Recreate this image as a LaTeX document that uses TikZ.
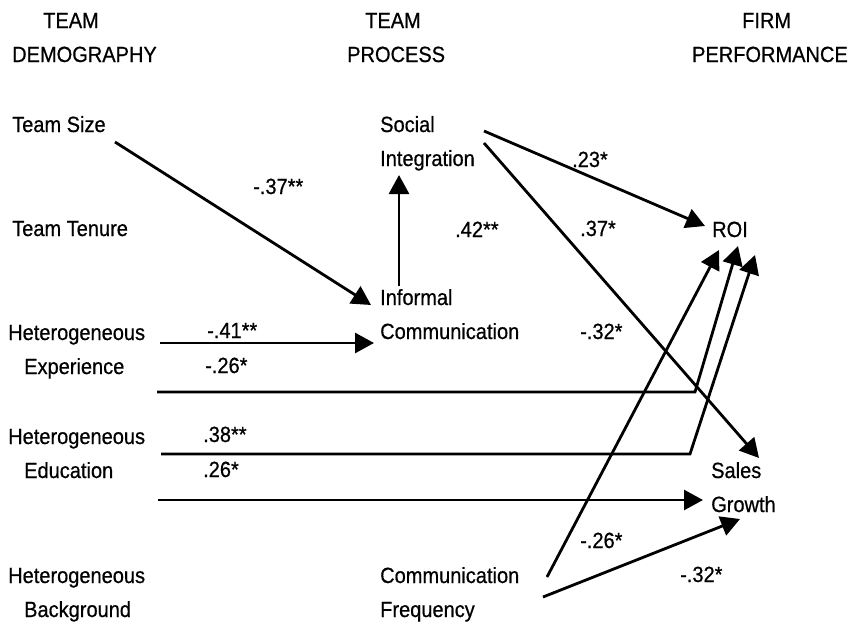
\documentclass[tikz,border=0pt]{standalone}
\usepackage{fontspec}
\setmainfont{Liberation Sans}[FakeStretch=0.91,FakeBold=0.6]
\usetikzlibrary{arrows.meta}
\begin{document}
\begin{tikzpicture}[x=1pt,y=-1pt,
  txt/.style={anchor=base west,inner sep=0pt,font=\fontsize{22}{26}\selectfont},
  txte/.style={anchor=base east,inner sep=0pt,font=\fontsize{22}{26}\selectfont},
  link/.style={line width=2.8pt,-{Triangle[length=19pt,width=20pt]}},
  plain/.style={line width=2.8pt}]
\path[use as bounding box,fill=white] (0,0) rectangle (854,624);
% headers
\node[txt] (h1a) at (43,28) {TEAM};
\node[txt] (h1b) at (12,62) {DEMOGRAPHY};
\node[txt] (h2a) at (365,28) {TEAM};
\node[txt] (h2b) at (347,62) {PROCESS};
\node[txt] (h3a) at (742,28) {FIRM};
\node[txte] (h3b) at (848,62) {PERFORMANCE};
% left column
\node[txt] (size) at (12,132) {Team Size};
\node[txt] (tenure) at (12,236) {Team Tenure};
\node[txt] (hexp) at (8,340) {Heterogeneous};
\node[txt] (exp) at (24,374) {Experience};
\node[txt] (hedu) at (8,444) {Heterogeneous};
\node[txt] (edu) at (24,478) {Education};
\node[txt] (hbg) at (8,583) {Heterogeneous};
\node[txt] (bg) at (24,617) {Background};
% middle column
\node[txt] (social) at (380,132) {Social};
\node[txt] (integ) at (380,166) {Integration};
\node[txt] (inf) at (380,305) {Informal};
\node[txt] (comm) at (380,339) {Communication};
\node[txt] (cf) at (380,583) {Communication};
\node[txt] (freq) at (380,617) {Frequency};
% right column
\node[txt] (roi) at (712,237) {ROI};
\node[txt] (sales) at (711,478) {Sales};
\node[txt] (growth) at (711,512) {Growth};
% coefficient labels
\node[txt] (l37) at (253,194) {-.37**};
\node[txt] (l42) at (455,237) {.42**};
\node[txt] (l23) at (572,167) {.23*};
\node[txt] (l37b) at (580,236) {.37*};
\node[txt] (l32) at (580,339) {-.32*};
\node[txt] (l41) at (207,338) {-.41**};
\node[txt] (l26) at (205,373) {-.26*};
\node[txt] (l38) at (203,442) {.38**};
\node[txt] (l26b) at (203,477) {.26*};
\node[txt] (l26c) at (580,548) {-.26*};
\node[txt] (l32b) at (680,582) {-.32*};
% connector end points
\coordinate (sizeS) at (115,142);
\coordinate (infT) at (371,305);
\coordinate (infS) at (399,286);
\coordinate (socT) at (399,175);
\coordinate (socS1) at (484,131);
\coordinate (roiT1) at (705,226);
\coordinate (socS2) at (484,143);
\coordinate (salesT) at (759,458);
\coordinate (expS1) at (160,343);
\coordinate (commT) at (374,343);
\coordinate (expS2) at (157,392);
\coordinate (expK) at (695,392);
\coordinate (roiT3) at (738,246);
\coordinate (eduS1) at (161,454);
\coordinate (eduK) at (690,454);
\coordinate (roiT4) at (755,255);
\coordinate (eduS2) at (158,500);
\coordinate (growthT) at (703,500);
\coordinate (cfS1) at (547,577);
\coordinate (roiT2) at (719,250);
\coordinate (cfS2) at (543,597);
\coordinate (growthT2) at (740,519);
% connectors
\draw[link] (sizeS) -- (infT);
\draw[link] (infS) -- (socT);
\draw[link] (socS1) -- (roiT1);
\draw[link] (socS2) -- (salesT);
\draw[link] (expS1) -- (commT);
\draw[link,line join=miter] (expS2) -- (expK) -- (roiT3);
\draw[link,line join=miter] (eduS1) -- (eduK) -- (roiT4);
\draw[link] (eduS2) -- (growthT);
\draw[link] (cfS1) -- (roiT2);
\draw[link] (cfS2) -- (growthT2);
\end{tikzpicture}
\end{document}
